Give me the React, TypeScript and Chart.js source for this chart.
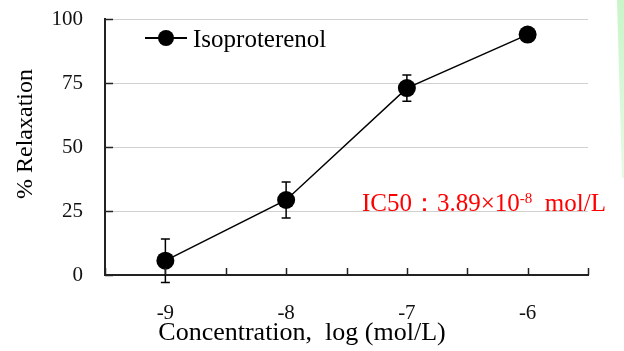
import React, { useEffect, useRef } from 'react';
import { Chart, registerables } from 'chart.js';

Chart.register(...registerables);

// ---- data ----
const concentrations = [-9, -8, -7, -6];
const relaxation = [5.6, 29.3, 73.0, 93.9];
const sem = [8.5, 7.0, 5.1, 1.0];
const yTickValues = [0, 25, 50, 75, 100];
const seriesLabel = 'Isoproterenol';
const xTitle = 'Concentration,  log (mol/L)';
const yTitle = '% Relaxation';
const ic50Main = 'IC50\uFF1A3.89\u00D710';
const ic50Exp = '-8';
const ic50Unit = '  mol/L';

const FONT = '"Liberation Serif", "Times New Roman", serif';
const AXIS_COLOR = '#222222';
const GRID_COLOR = '#d0d0d0';

const decorations = {
  id: 'decorations',
  beforeDatasetsDraw(chart: any) {
    const { ctx, scales } = chart;
    const x = scales.x;
    const y = scales.y;
    ctx.save();
    ctx.strokeStyle = '#000';
    ctx.lineWidth = 1.5;
    concentrations.forEach((c, i) => {
      const px = x.getPixelForValue(c);
      const top = y.getPixelForValue(relaxation[i] + sem[i]);
      const bot = y.getPixelForValue(relaxation[i] - sem[i]);
      ctx.beginPath();
      ctx.moveTo(px, top);
      ctx.lineTo(px, bot);
      ctx.moveTo(px - 4.5, top);
      ctx.lineTo(px + 4.5, top);
      ctx.moveTo(px - 4.5, bot);
      ctx.lineTo(px + 4.5, bot);
      ctx.stroke();
    });
    ctx.restore();
  },
  afterDraw(chart: any) {
    const { ctx, scales } = chart;
    const x = scales.x;
    const y = scales.y;
    ctx.save();
    ctx.strokeStyle = AXIS_COLOR;
    ctx.lineWidth = 1.5;
    ctx.beginPath();
    y.ticks.forEach((t: any) => {
      const py = Math.round(y.getPixelForValue(t.value)) + 0.5;
      ctx.moveTo(x.left, py);
      ctx.lineTo(x.left + 8, py);
    });
    x.ticks.forEach((t: any) => {
      const px = Math.round(x.getPixelForValue(t.value)) + 0.5;
      ctx.moveTo(px, y.bottom);
      ctx.lineTo(px, y.bottom - 7);
    });
    ctx.stroke();
    ctx.restore();
  },
};

export default function App() {
  const canvasRef = useRef<HTMLCanvasElement | null>(null);

  useEffect(() => {
    const canvas = canvasRef.current;
    if (!canvas) return;
    const chart = new Chart(canvas, {
      type: 'line',
      data: {
        datasets: [
          {
            label: seriesLabel,
            data: concentrations.map((c, i) => ({ x: c, y: relaxation[i] })),
            borderColor: '#000',
            backgroundColor: '#000',
            borderWidth: 1.5,
            pointRadius: 9,
            pointBorderWidth: 0,
            pointBackgroundColor: '#000',
            tension: 0,
          },
        ],
      },
      options: {
        responsive: false,
        animation: false,
        devicePixelRatio: 1,
        layout: { padding: { left: 0, right: 36, top: 19, bottom: 0 } },
        plugins: {
          legend: { display: false },
          tooltip: { enabled: false },
        },
        scales: {
          x: {
            type: 'linear',
            min: -9.5,
            max: -5.5,
            afterFit: (s: any) => {
              s.height = 76;
              s.paddingLeft = 0;
              s.paddingRight = 0;
            },
            grid: { display: false, drawTicks: false },
            border: { display: true, color: AXIS_COLOR, width: 2 },
            ticks: {
              stepSize: 0.5,
              autoSkip: false,
              maxRotation: 0,
              padding: 26,
              color: '#111',
              font: { family: FONT, size: 21 },
              callback: (v: any) => (Number.isInteger(v) ? String(v) : ''),
            },
          },
          y: {
            min: yTickValues[0],
            max: yTickValues[yTickValues.length - 1],
            afterFit: (s: any) => {
              s.width = 105;
              s.paddingTop = 0;
              s.paddingBottom = 0;
            },
            afterBuildTicks: (s: any) => {
              s.ticks = yTickValues.map((v) => ({ value: v }));
            },
            grid: { color: GRID_COLOR, lineWidth: 1, drawTicks: false },
            border: { display: true, color: AXIS_COLOR, width: 2 },
            ticks: {
              padding: 22,
              color: '#111',
              font: { family: FONT, size: 21 },
            },
          },
        },
      },
      plugins: [decorations],
    } as any);
    return () => chart.destroy();
  }, []);

  return (
    <div
      style={{
        position: 'fixed',
        left: 0,
        top: 0,
        width: 624,
        height: 351,
        background: '#fff',
        overflow: 'hidden',
      }}
    >
      <canvas ref={canvasRef} width={624} height={351} style={{ position: 'absolute', left: 0, top: 0 }} />
      <svg
        width={624}
        height={351}
        style={{ position: 'absolute', left: 0, top: 0, pointerEvents: 'none' }}
        fontFamily={FONT}
      >
        <defs>
          <linearGradient id="edge" x1="0" y1="0" x2="0" y2="1">
            <stop offset="0" stopColor="#c8f5c8" />
            <stop offset="1" stopColor="#e6fbe6" />
          </linearGradient>
        </defs>
        <polygon points="617,0 624,0 624,178 622,178" fill="url(#edge)" />
        {/* legend */}
        <line x1={145} y1={38} x2={187} y2={38} stroke="#000" strokeWidth={2} />
        <circle cx={166} cy={38} r={8} fill="#000" />
        <text x={193} y={47} fontSize={25} fill="#000">
          {seriesLabel}
        </text>
        {/* IC50 annotation */}
        <text x={362} y={211} fontSize={25} fill="#ff0000" style={{ whiteSpace: 'pre' }}>
          {ic50Main}
          <tspan fontSize={15} dy={-8}>
            {ic50Exp}
          </tspan>
          <tspan dy={8}>{ic50Unit}</tspan>
        </text>
        {/* axis titles */}
        <text x={302} y={340} fontSize={26} fill="#000" textAnchor="middle" style={{ whiteSpace: 'pre' }}>
          {xTitle}
        </text>
        <text
          transform="translate(32,134) rotate(-90)"
          fontSize={24}
          fill="#000"
          textAnchor="middle"
        >
          {yTitle}
        </text>
      </svg>
    </div>
  );
}
